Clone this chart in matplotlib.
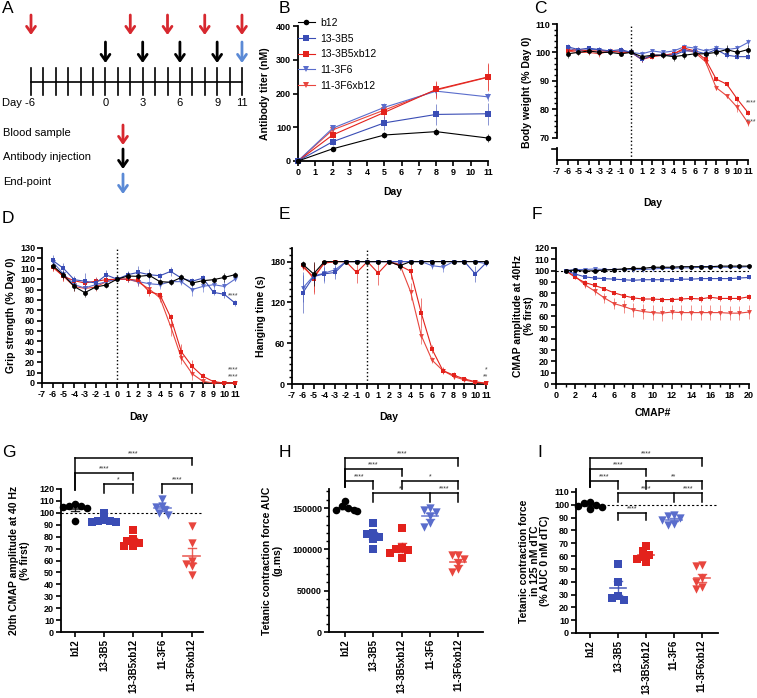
import numpy as np
import matplotlib
matplotlib.use('Agg')
import matplotlib.pyplot as plt
from matplotlib.lines import Line2D
from matplotlib.transforms import blended_transform_factory
from matplotlib.ticker import MultipleLocator, FixedLocator

plt.rcParams['font.family'] = ['Liberation Sans', 'DejaVu Sans']
plt.rcParams['font.weight'] = 'bold'
plt.rcParams['axes.labelweight'] = 'bold'
plt.rcParams['axes.unicode_minus'] = False

# ------------------------------------------------------------------ data
groups = ['b12', '13-3B5', '13-3B5xb12', '11-3F6', '11-3F6xb12']

# A : timeline
timeline_days = list(range(-6, 12))
timeline_label_days = [-6, 0, 3, 6, 9, 11]
timeline_labels = ['Day -6', '0', '3', '6', '9', '11']
blood_days = [-6, 2, 5, 8, 11]
injection_days = [0, 3, 6, 9]
endpoint_days = [11]
legend_A = ['Blood sample', 'Antibody injection', 'End-point']

# B : antibody titer (nM)
titer_days = [0, 2, 5, 8, 11]
titer_b12 = [0, 36, 77, 87, 68]
titer_3B5 = [0, 57, 113, 138, 140]
titer_3B5xb12 = [0, 77, 144, 212, 249]
titer_3F6 = [0, 97, 159, 207, 190]
titer_3F6xb12 = [0, 92, 151, 210, 248]
titer_b12_err = [0, 6, 9, 10, 12]
titer_3B5_err = [0, 10, 20, 30, 32]
titer_3B5xb12_err = [0, 10, 20, 25, 40]
titer_3F6_err = [0, 5, 12, 15, 12]
titer_3F6xb12_err = [0, 8, 15, 25, 40]

# C, D, E : days -6 .. 11
study_days = [-6, -5, -4, -3, -2, -1, 0, 1, 2, 3, 4, 5, 6, 7, 8, 9, 10, 11]

bw_b12 = [99.5, 100, 100.5, 100, 100, 99.5, 100, 98.5, 99, 99, 98.5, 99, 99.5, 99.5, 100, 101, 100, 101]
bw_3B5 = [102, 101, 101.5, 101, 100.5, 101, 100, 97.5, 99, 99, 99, 100.5, 100.5, 99.5, 101, 99, 98.5, 98.5]
bw_3B5xb12 = [100.5, 101, 100.5, 100.5, 100.5, 100, 100, 97.5, 98.5, 99, 99.5, 101.5, 100.5, 97.5, 90.6, 88.8, 83.5, 78.8]
bw_3F6 = [101.5, 100.5, 101, 101, 100, 100.5, 100, 99.5, 100.5, 100, 100.5, 102, 101.5, 100.5, 101.5, 101, 101.5, 103.5]
bw_3F6xb12 = [100.5, 100, 100, 99.5, 100.5, 100.5, 100, 97.5, 99, 99, 99.5, 101, 100, 96.7, 87.6, 84.7, 80.6, 75.2]
bw_b12_err = [1.5, 1, 1, 1, 0.8, 0.8, 0, 1, 1, 1, 1.5, 1.5, 1.2, 1.2, 1.2, 1.5, 1.5, 1.5]
bw_3B5_err = [1, 0.8, 0.8, 0.8, 0.8, 0.8, 0, 1, 0.8, 0.8, 1, 1, 1, 1, 1, 1, 1, 1]
bw_3B5xb12_err = [1, 0.8, 0.8, 0.8, 0.8, 0.8, 0, 0.8, 0.8, 0.8, 1, 1, 1, 1, 0.8, 0.8, 1, 1]
bw_3F6_err = [1, 1, 0.8, 0.8, 0.8, 0.8, 0, 1, 0.8, 0.8, 0.8, 1, 1.2, 1, 1, 1.2, 1.2, 1.2]
bw_3F6xb12_err = [1, 1, 1, 1, 1, 1, 0, 1, 1, 1, 1, 1, 1, 1, 0.8, 0.8, 1.5, 1]

gs_b12 = [113, 104, 93, 87, 92.4, 94.4, 100, 103, 102.7, 103.7, 97.6, 97, 101.7, 96.3, 98.5, 99.5, 101.7, 104.3]
gs_3B5 = [118, 110.4, 99.5, 98, 96.3, 104, 100, 104.3, 106.6, 104.3, 103.3, 107.5, 101, 98, 101, 87.3, 85.4, 77]
gs_3B5xb12 = [112, 102.7, 98.5, 96.3, 98, 99.5, 100, 100, 98.8, 88, 85, 63.2, 30, 16, 6.5, 1.3, 0, 0]
gs_3F6 = [116.5, 105, 94.7, 91.5, 94.7, 97.6, 100, 100, 97.6, 95.6, 94.7, 97.6, 97.6, 90, 93, 94.7, 93, 100]
gs_3F6xb12 = [111.4, 102.7, 93, 91, 92.4, 97.6, 100, 100, 97, 90.5, 82, 54.5, 24, 9, 1.6, 0, 0, 0]
gs_b12_err = [3, 4, 4, 4, 3, 3, 0, 4, 3, 3, 3, 3, 3, 3, 3, 3, 4, 3]
gs_3B5_err = [5, 5, 4, 8, 5, 5, 0, 4, 6, 5, 3, 4, 3, 3, 3, 3, 4, 3]
gs_3B5xb12_err = [4, 4, 4, 4, 4, 4, 0, 3, 3, 4, 3, 3, 8, 6, 3, 1, 0, 0]
gs_3F6_err = [4, 4, 4, 4, 3, 3, 0, 3, 4, 4, 4, 3, 3, 6, 5, 4, 5, 2]
gs_3F6xb12_err = [4, 4, 4, 4, 4, 3, 0, 3, 4, 4, 4, 9, 6, 6, 2, 0, 0, 0]

ht_b12 = [176, 162, 180, 180, 180, 180, 180, 180, 180, 174, 180, 180, 180, 180, 180, 180, 180, 180]
ht_3B5 = [134, 158, 162, 164, 180, 180, 180, 180, 180, 180, 180, 180, 180, 180, 180, 180, 162, 178]
ht_3B5xb12 = [175, 155, 178.5, 180, 180, 164, 180, 163, 180, 174, 166, 104, 51, 19.7, 13, 7.4, 3.4, 1]
ht_3F6 = [141, 159, 163, 168, 180, 180, 180, 180, 180, 180, 180, 180, 174, 172, 180, 180, 180, 177]
ht_3F6xb12 = [172, 158, 177.6, 180, 180, 180, 180, 180, 180, 176, 136, 71, 35, 19.7, 11, 6, 2.5, 1]
ht_b12_err = [5, 18, 0, 0, 0, 0, 0, 0, 0, 6, 0, 0, 0, 0, 0, 0, 0, 0]
ht_3B5_err = [30, 10, 10, 10, 0, 0, 0, 0, 0, 0, 0, 0, 0, 0, 0, 0, 12, 2]
ht_3B5xb12_err = [5, 22, 3, 0, 0, 15, 0, 18, 0, 4, 12, 22, 6, 5, 4, 3, 2, 1]
ht_3F6_err = [20, 10, 15, 8, 0, 0, 0, 0, 0, 0, 0, 0, 5, 8, 0, 0, 0, 2]
ht_3F6xb12_err = [5, 22, 3, 0, 0, 0, 0, 0, 0, 5, 12, 12, 4, 4, 3, 2, 2, 1]

# F : CMAP amplitude at 40 Hz
cmap_num = [1, 2, 3, 4, 5, 6, 7, 8, 9, 10, 11, 12, 13, 14, 15, 16, 17, 18, 19, 20]
cm_b12 = [100, 100.5, 99.5, 100, 100.5, 101, 101.5, 102, 102, 103, 103, 103, 103.5, 103.5, 103.5, 103.5, 104, 104, 104, 104]
cm_3B5 = [100, 97, 94.5, 93.5, 93, 92.5, 92, 91.5, 92, 92, 92, 92, 92.5, 92.5, 93, 93, 93, 93, 93.5, 94]
cm_3B5xb12 = [100, 94, 89.5, 87, 84, 80.5, 78, 76, 75, 75, 74.5, 74.5, 75, 75.5, 75, 76.5, 75.5, 75.5, 75.5, 77]
cm_3F6 = [100, 101, 101, 101.5, 101, 101, 101, 101, 101, 101.5, 102, 102, 102.5, 102.5, 103, 103, 103, 103, 103, 103.5]
cm_3F6xb12 = [100, 95, 87.5, 82, 76, 71, 68.5, 65.5, 64, 63, 62.5, 63.5, 63, 63, 63, 63, 63, 62.5, 62.5, 63.5]
cm_b12_err = [0, 1.5, 1.5, 1.5, 1.2, 1.2, 1.5, 1.5, 1.5, 1.5, 1.5, 1.5, 1.5, 1.5, 1.5, 1.5, 1.5, 1.5, 1.5, 1.5]
cm_3B5_err = [0, 1, 1, 1, 1, 1, 1, 1, 1, 1, 1, 1, 1, 1, 1, 1, 1, 1, 1, 1]
cm_3B5xb12_err = [0, 1.5, 2, 2, 2, 2, 2, 2.5, 2.5, 2.5, 2.5, 2.5, 2.5, 2.5, 2.5, 2.5, 2.5, 2.5, 2.5, 2.5]
cm_3F6_err = [0, 1, 1, 1, 1, 1, 1, 1, 1, 1, 1, 1, 1, 1, 1, 1, 1, 1, 1, 1]
cm_3F6xb12_err = [0, 2, 3, 3.5, 4.5, 5, 5.5, 6, 6.5, 6.5, 6.5, 6.5, 6.5, 6.5, 6.5, 6.5, 6.5, 6, 6, 6]

# G : 20th CMAP amplitude at 40 Hz (% first)
cmap20_b12 = [107, 106, 105.5, 105, 104, 93]
cmap20_3B5 = [100, 94, 93, 92.5, 92, 93.5]
cmap20_3B5xb12 = [86, 78, 76, 75, 72, 72]
cmap20_3F6 = [112, 106, 105, 102, 100, 98]
cmap20_3F6xb12 = [89, 75, 60, 57, 55, 48]

# H : tetanic contraction force AUC (g.ms)
auc_b12 = [158000, 152000, 150000, 148000, 147000, 146000]
auc_3B5 = [132000, 120000, 118000, 115000, 113000, 101000]
auc_3B5xb12 = [126000, 102000, 100000, 99000, 96000, 89000]
auc_3F6 = [150000, 148000, 145000, 140000, 132000, 127000]
auc_3F6xb12 = [93000, 93000, 88000, 84000, 76000, 72000]

# I : tetanic contraction force in 125 nM dTC (% AUC 0 nM dTC)
dtc_b12 = [102, 101, 100, 99, 98, 97]
dtc_3B5 = [54, 40, 29, 27, 26]
dtc_3B5xb12 = [68, 64, 61, 59, 58, 55]
dtc_3F6 = [92, 91, 90, 88, 85, 84]
dtc_3F6xb12 = [53, 52, 43, 40, 36, 34]

# ------------------------------------------------------------------ style
colors = ['#000000', '#3a4db5', '#e3221c', '#5a6dcc', '#e8463e']
markers = ['o', 's', 's', 'v', 'v']
RED_A, BLUE_A = '#d7282f', '#5b8ad6'

W, H = 757, 698
fig = plt.figure(figsize=(W / 100, H / 100), dpi=100)


def add_ax(x0, y0, x1, y1):
    return fig.add_axes([x0 / W, 1 - y1 / H, (x1 - x0) / W, (y1 - y0) / H])


def style(ax, labelsize=6.5):
    for s in ('top', 'right'):
        ax.spines[s].set_visible(False)
    for s in ('left', 'bottom'):
        ax.spines[s].set_linewidth(1.3)
    ax.tick_params(which='major', width=1.2, length=3.5, labelsize=labelsize, pad=1.5)
    ax.tick_params(which='minor', width=1.0, length=2)


def draw_series(ax, x, ys, errs, ms=3.5):
    for k in [4, 3, 2, 1, 0]:
        eb = ax.errorbar(x, ys[k], yerr=errs[k], color=colors[k], marker=markers[k], ms=ms,
                         mew=0, lw=0.8, elinewidth=0.7, capsize=1.6, capthick=0.7,
                         clip_on=False, zorder=3 + (5 - k) * 0.1)
        for art in list(eb[1]) + list(eb[2]):
            art.set_alpha(0.6)
            art.set_clip_on(False)


def panel_letter(x, y, s):
    fig.text(x / W, 1 - y / H, s, fontsize=12.5, fontweight='normal', va='top', ha='left')


def stars(ax, x, y, s):
    ax.text(x, y, s, fontsize=5, fontweight='normal', color='#444444', ha='center', va='center',
            clip_on=False)


# ------------------------------------------------------------------ A
axA = add_ax(0, 0, 250, 230)
px_per_day = 12.41
day0_px = 31
axA.set_xlim(-6 - day0_px / px_per_day, -6 + (250 - day0_px) / px_per_day)
axA.set_ylim(230, 0)
axA.axis('off')
axA.plot([timeline_days[0], timeline_days[-1]], [82, 82], color='k', lw=1.2)
for d in timeline_days:
    axA.plot([d, d], [68, 95], color='k', lw=1.2)
for d, lab in zip(timeline_label_days, timeline_labels):
    if lab.startswith('Day'):
        axA.text(d + 0.33, 103, lab, ha='right', va='center', fontsize=8, fontweight='normal')
    else:
        axA.text(d, 103, lab, ha='center', va='center', fontsize=8, fontweight='normal')


def down_arrow(ax, x, y0, y1, color):
    ax.annotate('', xy=(x, y1), xytext=(x, y0),
                arrowprops=dict(arrowstyle='->,head_length=0.45,head_width=0.32', color=color,
                                lw=2.0, shrinkA=0, shrinkB=0))


for d in blood_days:
    down_arrow(axA, d, 15, 35, RED_A)
for d in injection_days:
    down_arrow(axA, d, 42, 63, 'k')
for d in endpoint_days:
    down_arrow(axA, d, 42, 63, BLUE_A)

leg_x_text = -6 - (day0_px - 3) / px_per_day
leg_x_arrow = -6 + (123 - day0_px) / px_per_day
for lab, yy, col in zip(legend_A, [133, 157, 182], [RED_A, 'k', BLUE_A]):
    axA.text(leg_x_text, yy, lab, ha='left', va='center', fontsize=8, fontweight='normal')
    down_arrow(axA, leg_x_arrow, yy - 8, yy + 12, col)

# ------------------------------------------------------------------ B
axB = add_ax(298, 26, 488, 161)
style(axB)
draw_series(axB, titer_days,
            [titer_b12, titer_3B5, titer_3B5xb12, titer_3F6, titer_3F6xb12],
            [titer_b12_err, titer_3B5_err, titer_3B5xb12_err, titer_3F6_err, titer_3F6xb12_err], ms=4)
axB.set_xlim(0, 11)
axB.set_ylim(0, 400)
axB.set_xticks(range(0, 12))
axB.set_yticks([0, 100, 200, 300, 400])
axB.set_xlabel('Day', fontsize=7.5)
axB.set_ylabel('Antibody titer (nM)', fontsize=7.5)
axB.xaxis.set_label_coords(0.5, -0.19)
axB.yaxis.set_label_coords(-0.15, 0.5)
handles = [Line2D([], [], color=colors[k], marker=markers[k], ms=4, mew=0, lw=0.8) for k in range(5)]
axB.legend(handles, groups, loc='upper left', bbox_to_anchor=(0.0, 1.06), frameon=False,
           prop={'size': 7.5, 'weight': 'normal'}, handlelength=1.6, handletextpad=0.5,
           labelspacing=0.55, borderaxespad=0, borderpad=0)

# ------------------------------------------------------------------ C
axC = add_ax(557, 24, 748, 160)
style(axC)
draw_series(axC, study_days, [bw_b12, bw_3B5, bw_3B5xb12, bw_3F6, bw_3F6xb12],
            [bw_b12_err, bw_3B5_err, bw_3B5xb12_err, bw_3F6_err, bw_3F6xb12_err])
axC.set_xlim(-7, 11)
axC.set_ylim(62.1, 110)
axC.set_xticks(range(-7, 12))
axC.set_yticks([70, 80, 90, 100, 110])
axC.yaxis.set_minor_locator(FixedLocator(np.arange(70, 111, 2)))
axC.spines['left'].set_bounds(70, 110)
trC = blended_transform_factory(axC.transAxes, axC.transData)
axC.plot([0, 0], [62.1, 66.5], transform=trC, color='k', lw=1.3, clip_on=False)
axC.plot([-4.9 / 191, 0], [65.8, 65.8], transform=trC, color='k', lw=1.2, clip_on=False)
axC.axvline(0, color='k', ls=':', lw=1.0, zorder=1)
axC.set_xlabel('Day', fontsize=7.5)
axC.set_ylabel('Body weight (% Day 0)', fontsize=7.5)
axC.xaxis.set_label_coords(0.5, -0.28)
axC.yaxis.set_label_coords(-0.13, 0.5)
stars(axC, 11.3, 82.2, '****')
stars(axC, 11.3, 75.5, '****')

# ------------------------------------------------------------------ D
axD = add_ax(42, 248, 235, 383)
style(axD)
draw_series(axD, study_days, [gs_b12, gs_3B5, gs_3B5xb12, gs_3F6, gs_3F6xb12],
            [gs_b12_err, gs_3B5_err, gs_3B5xb12_err, gs_3F6_err, gs_3F6xb12_err])
axD.set_xlim(-7, 11)
axD.set_ylim(0, 130)
axD.set_xticks(range(-7, 12))
axD.set_yticks(range(0, 131, 10))
axD.axvline(0, color='k', ls=':', lw=1.0, zorder=1)
axD.set_xlabel('Day', fontsize=7.5)
axD.set_ylabel('Grip strength (% Day 0)', fontsize=7.5)
axD.xaxis.set_label_coords(0.5, -0.215)
axD.yaxis.set_label_coords(-0.135, 0.5)
stars(axD, 10.85, 83.5, '****')
stars(axD, 10.85, 12.5, '****')
stars(axD, 10.85, 6.0, '****')

# ------------------------------------------------------------------ E
axE = add_ax(292, 248, 486, 384)
style(axE)
draw_series(axE, study_days, [ht_b12, ht_3B5, ht_3B5xb12, ht_3F6, ht_3F6xb12],
            [ht_b12_err, ht_3B5_err, ht_3B5xb12_err, ht_3F6_err, ht_3F6xb12_err])
axE.set_xlim(-7, 11)
axE.set_ylim(0, 200)
axE.set_xticks(range(-7, 12))
axE.set_yticks([0, 60, 120, 180])
axE.yaxis.set_minor_locator(MultipleLocator(10))
axE.axvline(0, color='k', ls=':', lw=1.0, zorder=1)
axE.set_xlabel('Day', fontsize=7.5)
axE.set_ylabel('Hanging time (s)', fontsize=7.5)
axE.xaxis.set_label_coords(0.5, -0.206)
axE.yaxis.set_label_coords(-0.134, 0.5)
stars(axE, 11, 20.5, '*')
stars(axE, 11, 10.5, '**')

# ------------------------------------------------------------------ F
axF = add_ax(556, 248, 749, 384)
style(axF)
axF.axhline(100, color='k', ls=(0, (2, 2)), lw=0.8, zorder=1)
draw_series(axF, cmap_num, [cm_b12, cm_3B5, cm_3B5xb12, cm_3F6, cm_3F6xb12],
            [cm_b12_err, cm_3B5_err, cm_3B5xb12_err, cm_3F6_err, cm_3F6xb12_err])
axF.set_xlim(0, 20)
axF.set_ylim(0, 120)
axF.set_xticks(range(0, 21, 2))
axF.xaxis.set_minor_locator(FixedLocator(range(1, 20, 2)))
axF.set_yticks(range(0, 121, 10))
axF.set_xlabel('CMAP#', fontsize=7.5)
axF.set_ylabel('CMAP amplitude at 40Hz\n(% first)', fontsize=7.5, linespacing=1.1)
axF.xaxis.set_label_coords(0.5, -0.176)
axF.yaxis.set_label_coords(-0.115, 0.5)


# ------------------------------------------------------------------ G, H, I (scatter)
def swarm_x(ax, i, vals, diam_px=5.5, step_px=3.0):
    tr = ax.transData
    x0d = tr.transform((i, 0))[0]
    placed = []
    xs = np.empty(len(vals))
    order = np.argsort(-np.asarray(vals, dtype=float), kind='stable')
    for idx in order:
        yd = tr.transform((i, vals[idx]))[1]
        for k in [0, -1, 1, -2, 2, -3, 3, -4, 4]:
            xd = x0d + k * step_px
            if all((xd - px) ** 2 + (yd - py) ** 2 >= diam_px ** 2 for px, py in placed):
                break
        placed.append((xd, yd))
        xs[idx] = tr.inverted().transform((xd, yd))[0]
    return xs


def dot_panel(ax, data, xlim, ylim):
    ax.set_xlim(*xlim)
    ax.set_ylim(*ylim)
    style(ax, labelsize=6.5)
    ax.set_xticks(range(5))
    ax.set_xticklabels(groups, rotation=90, fontsize=7)
    for i, vals in enumerate(data):
        vals = np.asarray(vals, dtype=float)
        xs = swarm_x(ax, i, vals)
        size = 30 if markers[i] != 'v' else 36
        ax.scatter(xs, vals, s=size, marker=markers[i], color=colors[i], lw=0, zorder=3,
                   clip_on=False)
        m = vals.mean()
        sem = vals.std(ddof=1) / np.sqrt(len(vals))
        ax.plot([i - 0.28, i + 0.28], [m, m], color=colors[i], lw=1.2, zorder=4, alpha=0.85)
        ax.plot([i, i], [m - sem, m + sem], color=colors[i], lw=1.0, zorder=4, alpha=0.85)
        for v in (m - sem, m + sem):
            ax.plot([i - 0.14, i + 0.14], [v, v], color=colors[i], lw=1.0, zorder=4, alpha=0.85)


def bracket(ax, xs, y, drops, labels, ybot, hpx):
    f = lambda ypx: (ybot - ypx) / hpx
    tr = blended_transform_factory(ax.transData, ax.transAxes)
    ax.plot([xs[0], xs[-1]], [f(y), f(y)], transform=tr, color='k', lw=1.1, clip_on=False,
            solid_capstyle='projecting')
    for x, d in zip(xs, drops):
        ax.plot([x, x], [f(y), f(d)], transform=tr, color='k', lw=1.1, clip_on=False)
    for k, lab in enumerate(labels):
        ax.text((xs[k] + xs[k + 1]) / 2, f(y - 0.8), lab, transform=tr, ha='center', va='bottom',
                fontsize=5, fontweight='normal', color='#333333')


# G
axG = add_ax(61, 489, 203, 632)
dot_panel(axG, [cmap20_b12, cmap20_3B5, cmap20_3B5xb12, cmap20_3F6, cmap20_3F6xb12],
          (-0.48, 4.39), (0, 120))
axG.set_yticks(range(0, 121, 10))
axG.axhline(100, color='k', ls=(0, (2, 2)), lw=0.8, zorder=1)
axG.set_ylabel('20th CMAP amplitude at 40 Hz\n(% first)', fontsize=7.5, linespacing=1.1)
axG.yaxis.set_label_coords(-0.22, 0.5)
gb, gh = 632, 143
bracket(axG, [0, 4], 458, [490, 465], ['****'], gb, gh)
bracket(axG, [0, 2], 473, [490, 480], ['****'], gb, gh)
bracket(axG, [1, 2], 484, [493, 493], ['*'], gb, gh)
bracket(axG, [3, 4], 484, [493, 493], ['****'], gb, gh)

# H
axH = add_ax(329, 489, 483, 632)
dot_panel(axH, [auc_b12, auc_3B5, auc_3B5xb12, auc_3F6, auc_3F6xb12],
          (-0.57, 4.87), (0, 173000))
axH.set_yticks([0, 50000, 100000, 150000])
axH.yaxis.set_minor_locator(MultipleLocator(10000))
axH.set_ylabel('Tetanic contraction force AUC\n(g.ms)', fontsize=7.5, linespacing=1.1)
axH.yaxis.set_label_coords(-0.30, 0.5)
hb, hh = 632, 143
bracket(axH, [0, 4], 458, [487, 466], ['****'], hb, hh)
bracket(axH, [0, 2], 469, [487, 476], ['****'], hb, hh)
bracket(axH, [0, 1], 481, [487, 489], ['****'], hb, hh)
bracket(axH, [2, 4], 481, [489, 489], ['*'], hb, hh)
bracket(axH, [1, 3, 4], 493, [502, 502, 502], ['**', '****'], hb, hh)

# I
axI = add_ax(576, 489, 718, 633)
dot_panel(axI, [dtc_b12, dtc_3B5, dtc_3B5xb12, dtc_3F6, dtc_3F6xb12],
          (-0.5, 4.58), (0, 112.3))
axI.set_yticks(range(0, 111, 10))
axI.axhline(100, color='k', ls=(0, (2, 2)), lw=0.8, zorder=1)
axI.set_ylabel('Tetanic contraction force\nin 125 nM dTC\n(% AUC 0 nM dTC)', fontsize=7.5,
               linespacing=1.1)
axI.yaxis.set_label_coords(-0.18, 0.5)
ib, ih = 633, 144
bracket(axI, [0, 4], 458, [487, 466], ['****'], ib, ih)
bracket(axI, [0, 2], 469, [487, 476], ['****'], ib, ih)
bracket(axI, [0, 1], 481, [487, 489], ['****'], ib, ih)
bracket(axI, [2, 4], 481, [489, 489], ['**'], ib, ih)
bracket(axI, [1, 3, 4], 493, [502, 502, 502], ['****', '****'], ib, ih)
bracket(axI, [1, 2], 513, [520, 520], ['****'], ib, ih)

# ------------------------------------------------------------------ panel letters
for x, y, s in [(2, 1, 'A'), (279, 1, 'B'), (534, 1, 'C'),
                (2, 211, 'D'), (279, 207, 'E'), (532, 207, 'F'),
                (2, 445, 'G'), (279, 445, 'H'), (537, 445, 'I')]:
    panel_letter(x, y, s)

fig.savefig('out.png', dpi=100)
